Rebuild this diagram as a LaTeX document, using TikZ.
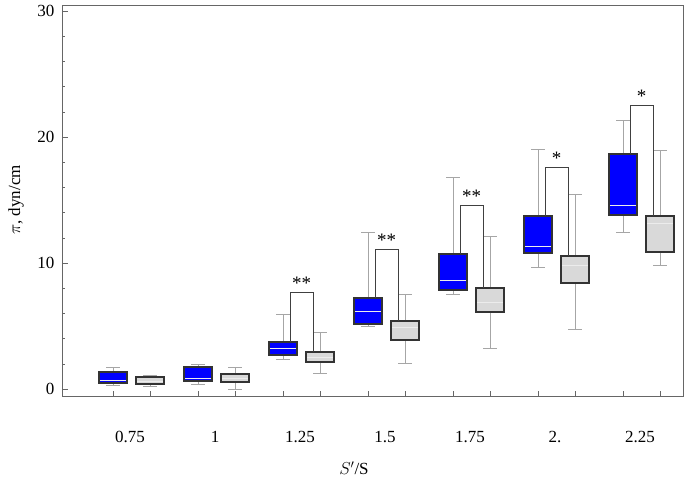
\documentclass[tikz,border=0pt]{standalone}
\usepackage{fontspec}
\setmainfont{Liberation Serif}
\begin{document}
\begin{tikzpicture}[x=1pt,y=-1pt,
  whisk/.style={draw=black!35,line width=0.8pt},
  boxline/.style={draw=black!80,line width=1.1pt},
  med/.style={draw=white!85!gray,line width=0.8pt},
  brk/.style={draw=black!75,line width=0.8pt},
  lab/.style={font=\fontsize{17}{19}\selectfont}]
\useasboundingbox (0,0) rectangle (695,492);
\newcommand\mybox[7]{%
  \draw[whisk] (#1,#2)--(#1,#6);
  \draw[whisk] (#1-7,#2)--(#1+7,#2);
  \draw[whisk] (#1-7,#6)--(#1+7,#6);
  \filldraw[boxline,fill=#7] (#1-14,#3) rectangle (#1+14,#5);
  \draw[med] (#1-13,#4)--(#1+13,#4);}
\newcommand\mybrk[5]{%
  \draw[brk] (#1+7,#2)--(#1+7,#4)--(#1+30,#4)--(#1+30,#3);
  \node[font=\fontsize{19}{19}\selectfont] at (#1+18.5,#4-9) {#5};}
\draw[black!60,line width=0.6pt] (62,5) rectangle (683,396);
\foreach \v/\t in {0/0,10/10,20/20,30/30}{
  \draw[black!60] (62,389-12.6*\v)--(68,389-12.6*\v);
  \node[lab,anchor=east] at (58,389-12.6*\v) {\t};}
\foreach \v in {2,4,6,8,12,14,16,18,22,24,26,28}{
  \draw[black!60] (62,389-12.6*\v)--(65,389-12.6*\v);}
\foreach \c/\t in {130/0.75,215/1,300/1.25,385/1.5,470/1.75,555/2.,640/2.25}{
  \node[lab] at (\c,437) {\t};
  \draw[black!60] (\c-17,396)--(\c-17,391);
  \draw[black!60] (\c+20,396)--(\c+20,391);}
\node[lab,rotate=90] at (16,200) {$\pi$, dyn/cm};
\node[lab] at (354,468) {$S'$/S};
\mybox{113}{367}{372}{380}{383}{385}{blue}
\mybox{150}{375}{377}{381}{384}{386}{black!15}
\mybox{198}{364}{367}{378}{381}{384}{blue}
\mybox{235}{367}{374}{378}{382}{389}{black!15}
\mybox{283}{314}{342}{348}{355}{359}{blue}
\mybox{320}{332}{352}{357}{362}{373}{black!15}
\mybrk{283}{342}{352}{292}{**}
\mybox{368}{232}{298}{311}{324}{326}{blue}
\mybox{405}{294}{321}{327}{340}{363}{black!15}
\mybrk{368}{298}{321}{249}{**}
\mybox{453}{177}{254}{280}{290}{294}{blue}
\mybox{490}{236}{288}{302}{312}{348}{black!15}
\mybrk{453}{254}{288}{205}{**}
\mybox{538}{149}{216}{246}{253}{267}{blue}
\mybox{575}{194}{256}{265}{283}{329}{black!15}
\mybrk{538}{216}{256}{167}{*}
\mybox{623}{120}{154}{205}{215}{232}{blue}
\mybox{660}{150}{216}{223}{252}{265}{black!15}
\mybrk{623}{154}{216}{105}{*}
\end{tikzpicture}
\end{document}
